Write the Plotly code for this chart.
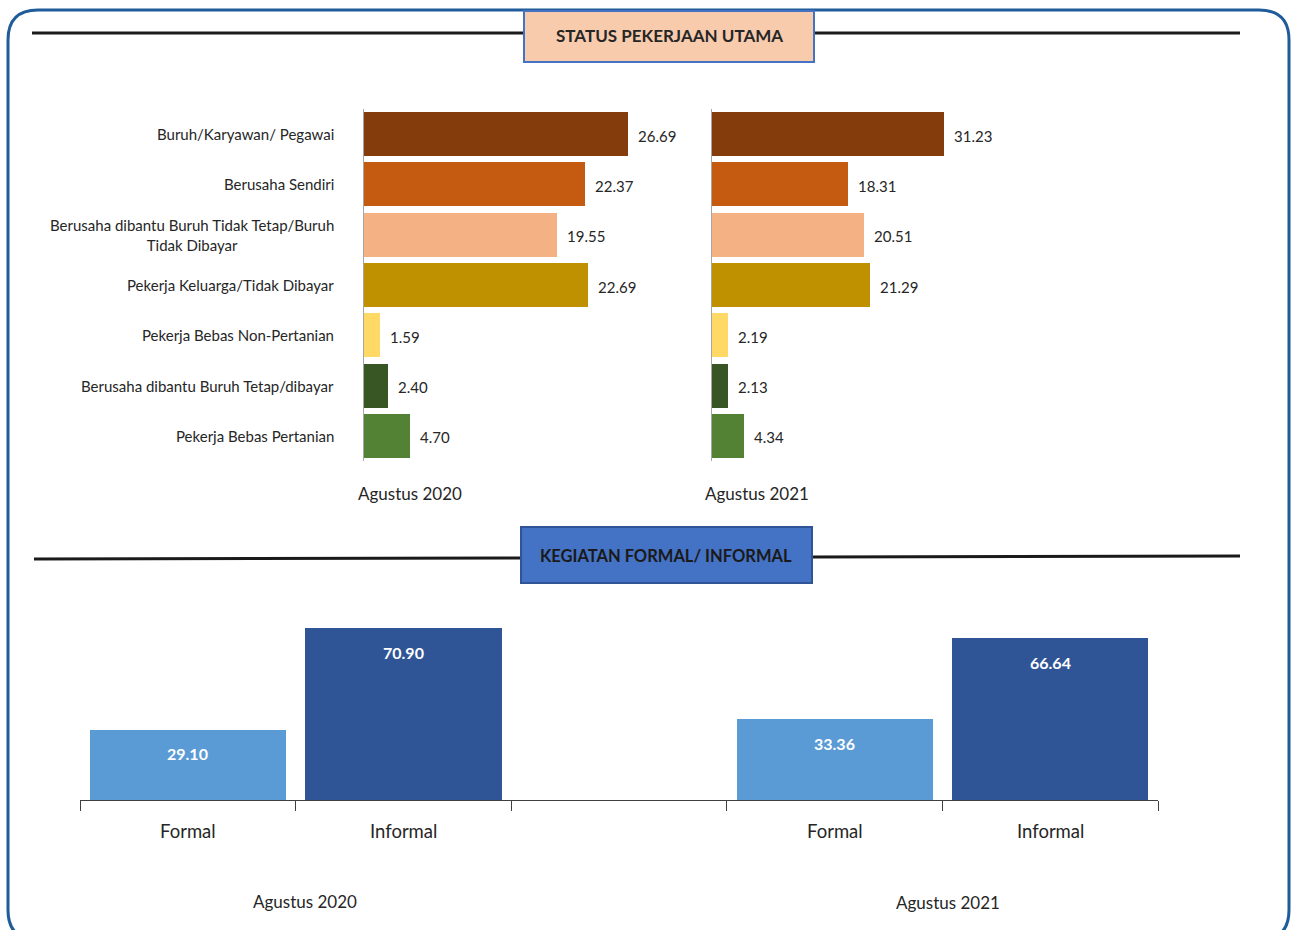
import plotly.graph_objects as go

W, H = 1291, 930
def fx(px): return px / W
def fy(py): return 1 - py / H

FONT = "Lato, sans-serif"
TXT = "#262626"

# ---------------- data ----------------
status_labels = [
    "Buruh/Karyawan/ Pegawai",
    "Berusaha Sendiri",
    "Berusaha dibantu Buruh Tidak Tetap/Buruh<br>Tidak Dibayar",
    "Pekerja Keluarga/Tidak Dibayar",
    "Pekerja Bebas Non-Pertanian",
    "Berusaha dibantu Buruh Tetap/dibayar",
    "Pekerja Bebas Pertanian",
]
status_2020 = [26.69, 22.37, 19.55, 22.69, 1.59, 2.40, 4.70]
status_2021 = [31.23, 18.31, 20.51, 21.29, 2.19, 2.13, 4.34]
status_colors = ["#843C0C", "#C55A11", "#F4B183", "#BF9000", "#FFD966", "#375623", "#548235"]
periods = ["Agustus 2020", "Agustus 2021"]

formal_cats = ["Formal", "Informal"]
formal_2020 = [29.10, 70.90]
formal_2021 = [33.36, 66.64]
formal_colors = ["#5B9BD5", "#2F5597"]

fig = go.Figure()

ypos = list(range(len(status_labels)))

# ---------- top panels ----------
fig.add_trace(go.Bar(x=status_2020, y=ypos, orientation="h", marker_color=status_colors,
                     marker_line_width=0, width=0.875, xaxis="x", yaxis="y", showlegend=False, hoverinfo="x"))
fig.add_trace(go.Bar(x=status_2021, y=ypos, orientation="h", marker_color=status_colors,
                     marker_line_width=0, width=0.875, xaxis="x2", yaxis="y2", showlegend=False, hoverinfo="x"))

# ---------- bottom panel ----------
bx = [0, 1, 3, 4]
bvals = formal_2020 + formal_2021
bcols = formal_colors + formal_colors
fig.add_trace(go.Bar(x=bx, y=bvals, marker_color=bcols, marker_line_width=0, width=0.91,
                     xaxis="x3", yaxis="y3", showlegend=False, hoverinfo="y"))

def A(**kw):
    kw.setdefault("showarrow", False)
    kw.setdefault("xanchor", "center")
    kw.setdefault("yanchor", "middle")
    return kw

ann = []
for i, lab in enumerate(status_labels):
    ann.append(A(x=fx(336), xref="paper", xanchor="right", y=i, yref="y",
                 text=lab, align="center", font=dict(family=FONT, size=15, color=TXT)))
for i, v in enumerate(status_2020):
    ann.append(A(x=v, xref="x", y=i + 0.03, yref="y", xanchor="left", xshift=8,
                 text=f"{v:.2f}", font=dict(family=FONT, size=15, color=TXT)))
for i, v in enumerate(status_2021):
    ann.append(A(x=v, xref="x2", y=i + 0.03, yref="y2", xanchor="left", xshift=8,
                 text=f"{v:.2f}", font=dict(family=FONT, size=15, color=TXT)))
ann.append(A(x=fx(410), y=fy(494), xref="paper", yref="paper", text=periods[0],
             font=dict(family=FONT, size=17, color=TXT)))
ann.append(A(x=fx(757), y=fy(494), xref="paper", yref="paper", text=periods[1],
             font=dict(family=FONT, size=17, color=TXT)))

for xv, v in zip(bx, bvals):
    ann.append(A(x=xv, xref="x3", y=v, yref="y3", yanchor="top", yshift=-13,
                 text=f"<b>{v:.2f}</b>", font=dict(family=FONT, size=16, color="white")))
for xv, lab in zip(bx, formal_cats + formal_cats):
    ann.append(A(x=xv, xref="x3", y=fy(831), yref="paper", text=lab,
                 font=dict(family=FONT, size=18.5, color=TXT)))
ann.append(A(x=fx(305), xref="paper", y=fy(901), yref="paper", text=periods[0],
             font=dict(family=FONT, size=17, color=TXT)))
ann.append(A(x=fx(948), xref="paper", y=fy(902), yref="paper", text=periods[1],
             font=dict(family=FONT, size=17, color=TXT)))

ann.append(A(x=fx(669), y=fy(36), xref="paper", yref="paper",
             text="<b>STATUS PEKERJAAN UTAMA</b>", font=dict(family=FONT, size=17, color="#262626")))
ann.append(A(x=fx(666), y=fy(556), xref="paper", yref="paper",
             text="<b>KEGIATAN FORMAL/ INFORMAL</b>", font=dict(family=FONT, size=16.5, color="#1a1a1a")))

shapes = []
x0, y0, x1, y1, r = 8, 10, 1289, 940, 30
path = (f"M {x0+r},{y0} L {x1-r},{y0} Q {x1},{y0} {x1},{y0+r} L {x1},{y1-r} "
        f"Q {x1},{y1} {x1-r},{y1} L {x0+r},{y1} Q {x0},{y1} {x0},{y1-r} "
        f"L {x0},{y0+r} Q {x0},{y0} {x0+r},{y0} Z")
def conv(p):
    out = []
    for tok in p.split():
        if "," in tok:
            a, b = tok.split(",")
            out.append(f"{fx(float(a)):.5f},{fy(float(b)):.5f}")
        else:
            out.append(tok)
    return " ".join(out)
shapes.append(dict(type="path", path=conv(path), xref="paper", yref="paper",
                   line=dict(color="#1F5C99", width=3), fillcolor="rgba(0,0,0,0)"))
for (a, b, c, d) in [(32, 524, 33, 33), (814, 1240, 33, 33), (34, 521, 559, 558), (812, 1240, 557, 556)]:
    shapes.append(dict(type="line", xref="paper", yref="paper", x0=fx(a), x1=fx(b), y0=fy(c), y1=fy(d),
                       line=dict(color="#1a1a1a", width=3)))
shapes.append(dict(type="rect", xref="paper", yref="paper", x0=fx(524), x1=fx(814), y0=fy(62), y1=fy(11),
                   fillcolor="#F8CBAD", line=dict(color="#4472C4", width=2)))
shapes.append(dict(type="rect", xref="paper", yref="paper", x0=fx(521), x1=fx(812), y0=fy(583), y1=fy(527),
                   fillcolor="#4472C4", line=dict(color="#2F5597", width=2)))

fig.update_layout(
    width=W, height=H,
    margin=dict(l=0, r=0, t=0, b=0),
    paper_bgcolor="white", plot_bgcolor="rgba(0,0,0,0)",
    bargap=0,
    annotations=ann, shapes=shapes,
    xaxis=dict(domain=[fx(364), fx(364 + 30 * 9.89)], range=[0, 30], visible=False, anchor="y"),
    yaxis=dict(domain=[fy(461), fy(109)], range=[6.5, -0.5], showticklabels=False, showgrid=False,
               zeroline=False, showline=True, linecolor="#A6A6A6", linewidth=1, ticks=""),
    xaxis2=dict(domain=[fx(712), fx(712 + 40 * 7.43)], range=[0, 40], visible=False, anchor="y2"),
    yaxis2=dict(domain=[fy(461), fy(109)], range=[6.5, -0.5], anchor="x2", showticklabels=False,
                showgrid=False, zeroline=False, showline=True, linecolor="#A6A6A6", linewidth=1, ticks=""),
    xaxis3=dict(domain=[fx(80), fx(1158)], range=[-0.5, 4.5], anchor="y3",
                tickvals=[-0.5, 0.5, 1.5, 2.5, 3.5, 4.5], ticktext=[""] * 6,
                ticks="outside", ticklen=10, tickcolor="#404040", showline=True, linecolor="#404040",
                linewidth=1, showgrid=False, zeroline=False),
    yaxis3=dict(domain=[fy(800), fy(800 - 80 * 2.43)], range=[0, 80], anchor="x3", visible=False),
)

fig.write_html("out.html")
